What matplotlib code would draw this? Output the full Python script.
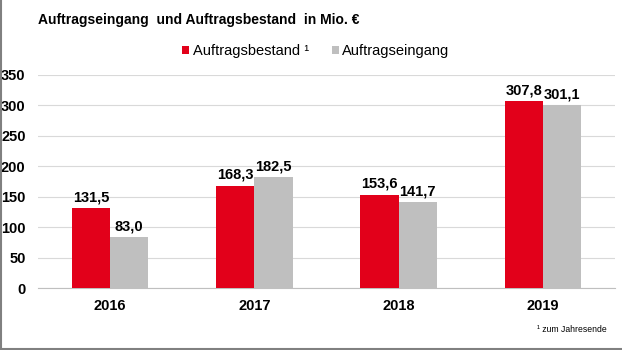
import matplotlib
matplotlib.use("Agg")
import matplotlib.pyplot as plt
import numpy as np
from matplotlib.lines import Line2D

plt.rcParams['font.family'] = ['Liberation Sans', 'DejaVu Sans']

years = ["2016", "2017", "2018", "2019"]
bestand = [131.5, 168.3, 153.6, 307.8]
eingang = [83.0, 182.5, 141.7, 301.1]
yticks = [0, 50, 100, 150, 200, 250, 300, 350]

red = "#E2001A"
gray = "#BFBFBF"

fig = plt.figure(figsize=(6.22, 3.5), dpi=100)
ax = fig.add_axes([38/622, 1-288/350, 577/622, (288-75)/350])

x = np.arange(len(years))
w = 0.265
b1 = ax.bar(x - w/2, bestand, w, color=red, label="Auftragsbestand \u00b9", zorder=3)
b2 = ax.bar(x + w/2, eingang, w, color=gray, label="Auftragseingang", zorder=3)

def fmt(v):
    return f"{v:.1f}".replace(".", ",")

for bars, vals in ((b1, bestand), (b2, eingang)):
    for r, v in zip(bars, vals):
        ax.text(r.get_x() + r.get_width()/2, v + 6, fmt(v), ha="center", va="bottom",
                fontsize=10.5, fontweight="bold", color="black")

ax.set_ylim(0, 350)
ax.set_xlim(-0.5, len(years) - 0.5)
ax.set_yticks(yticks)
ax.set_yticklabels([str(t) for t in yticks], fontsize=10.5, fontweight="bold")
ax.set_xticks(x)
ax.set_xticklabels(years, fontsize=10.5, fontweight="bold")
ax.tick_params(axis="both", length=0)
ax.tick_params(axis="y", pad=9)
ax.tick_params(axis="x", pad=8)
ax.yaxis.grid(True, color="#D9D9D9", linewidth=0.8, zorder=0)
for s in ("top", "right", "left"):
    ax.spines[s].set_visible(False)
ax.spines["bottom"].set_color("#BFBFBF")

fig.text(38/622, 1-20/350, "Auftragseingang  und Auftragsbestand  in Mio. \u20ac", fontsize=10,
         fontweight="bold", va="center", ha="left")
fig.legend(handles=[b1, b2], loc="center", bbox_to_anchor=(316/622, 1-51/350), ncol=2,
           frameon=False, fontsize=10.5, handlelength=0.45, handleheight=0.45,
           handletextpad=0.25, columnspacing=1.6)
fig.text(607/622, 1-330/350, "\u00b9 zum Jahresende", fontsize=6.2, ha="right", va="center")

fig.add_artist(Line2D([1/622, 1/622], [0, 1], color="#808080", linewidth=1.5))
fig.add_artist(Line2D([0, 1], [1.5/350, 1.5/350], color="#808080", linewidth=1.5))

fig.savefig("out.png", dpi=100)
